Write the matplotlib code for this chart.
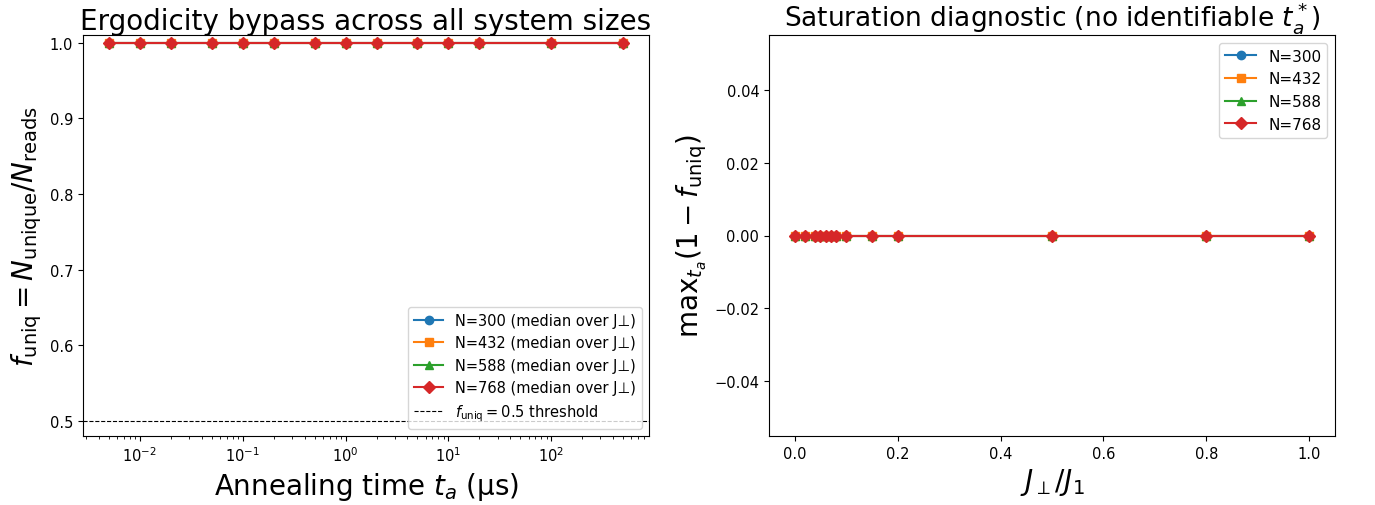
import matplotlib
matplotlib.use("Agg")
import matplotlib.pyplot as plt

# annealing times (us) and J_perp/J1 values
t_anneal = [0.005, 0.01, 0.02, 0.05, 0.1, 0.2, 0.5, 1, 2, 5, 10, 20, 100, 500]
j_perp = [0.0, 0.02, 0.04, 0.05, 0.06, 0.07, 0.08, 0.1, 0.15, 0.2, 0.5, 0.8, 1.0]

sizes = [300, 432, 588, 768]
markers = ['o', 's', '^', 'D']

# median f_uniq over J_perp, one list per N
f_uniq = {
    300: [1.0] * 14,
    432: [1.0] * 14,
    588: [1.0] * 14,
    768: [1.0] * 14,
}
# max over t_a of (1 - f_uniq), one list per N
sat = {
    300: [0.0] * 13,
    432: [0.0] * 13,
    588: [0.0] * 13,
    768: [0.0] * 13,
}

fig = plt.figure(figsize=(13.75, 5.06), dpi=100)
ax1 = fig.add_axes([83/1375, 1 - 437/506, (649-83)/1375, (437-36)/506])
ax2 = fig.add_axes([769/1375, 1 - 437/506, (1335-769)/1375, (437-36)/506])

for n, m in zip(sizes, markers):
    ax1.plot(t_anneal, f_uniq[n], marker=m, label=f"N={n} (median over J\u22a5)")
ax1.axhline(0.5, ls='--', color='k', lw=0.8, label=r"$f_{\rm uniq}=0.5$ threshold")
ax1.set_xscale('log')
ax1.set_ylim(0.48, 1.01)
ax1.set_xlabel(r"Annealing time $t_a$ (µs)", fontsize=20)
ax1.set_ylabel(r"$f_{\rm uniq} = N_{\rm unique}/N_{\rm reads}$", fontsize=20)
ax1.set_title("Ergodicity bypass across all system sizes", fontsize=20, pad=4)
ax1.legend(loc='lower right', fontsize=10.5)

for n, m in zip(sizes, markers):
    ax2.plot(j_perp, sat[n], marker=m, label=f"N={n}")
ax2.set_xlabel(r"$J_\perp/J_1$", fontsize=20)
ax2.set_ylabel(r"$\mathrm{max}_{t_a}(1 - f_{\rm uniq})$", fontsize=20)
ax2.set_title(r"Saturation diagnostic (no identifiable $t_a^*$)", fontsize=19, pad=3)
ax2.legend(loc='upper right', fontsize=11)

for ax in (ax1, ax2):
    ax.tick_params(labelsize=10.5)

fig.savefig("out.png", dpi=100)
